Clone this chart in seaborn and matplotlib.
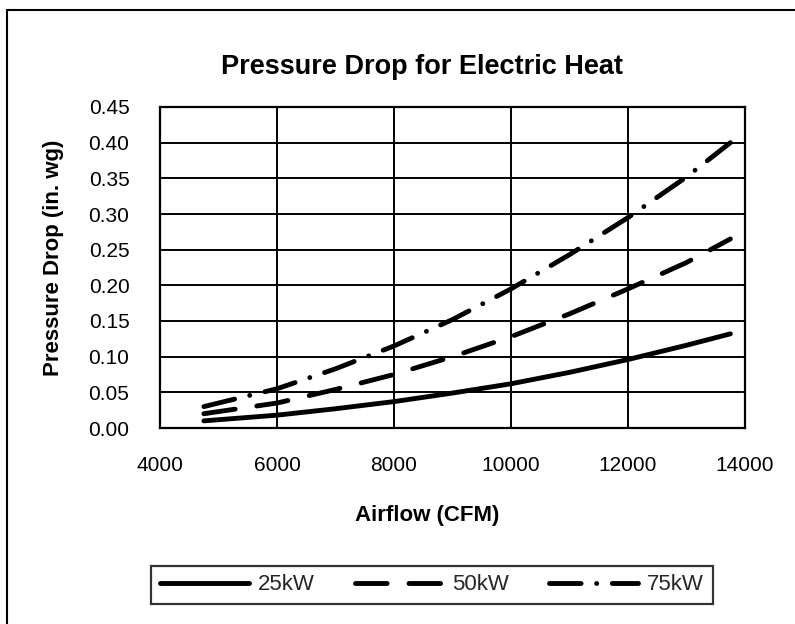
import matplotlib
matplotlib.use("Agg")
import matplotlib.pyplot as plt
from matplotlib.lines import Line2D
import numpy as np
import pandas as pd
import seaborn as sns

# Airflow points (CFM) and pressure drop (in. wg) for each heater size
airflow = [4750, 6000, 7000, 8000, 9000, 10000, 11000, 12000, 13000, 13750]
drop_25kw = [0.010, 0.018, 0.027, 0.037, 0.049, 0.062, 0.078, 0.096, 0.116, 0.132]
drop_50kw = [0.020, 0.035, 0.054, 0.075, 0.100, 0.128, 0.160, 0.195, 0.232, 0.265]
drop_75kw = [0.030, 0.055, 0.083, 0.115, 0.152, 0.195, 0.243, 0.295, 0.352, 0.400]
series_names = ["25kW", "50kW", "75kW"]

x_ticks = [4000, 6000, 8000, 10000, 12000, 14000]
y_ticks = [0.00, 0.05, 0.10, 0.15, 0.20, 0.25, 0.30, 0.35, 0.40, 0.45]

df = pd.DataFrame({
    "Airflow": airflow * 3,
    "Drop": drop_25kw + drop_50kw + drop_75kw,
    "Heater": [series_names[0]] * len(airflow)
              + [series_names[1]] * len(airflow)
              + [series_names[2]] * len(airflow),
})

sns.set_theme(style="white")
plt.rcParams["font.family"] = ["Liberation Sans", "DejaVu Sans"]

W, H = 795, 624
fig = plt.figure(figsize=(W / 100, H / 100), dpi=100)
ax = fig.add_axes([160 / W, 1 - 428 / H, 585 / W, 321 / H])

lw = 3.5
dash_50 = (6.5, 4.5)
dash_75 = (6.5, 3.2, 0.01, 3.2)
dashes = {"25kW": "", "50kW": dash_50, "75kW": dash_75}
sns.lineplot(data=df, x="Airflow", y="Drop", hue="Heater", style="Heater",
             palette=["black"] * 3, dashes=dashes, linewidth=lw,
             ax=ax, legend=False, zorder=3)
for line in ax.get_lines():
    line.set_dash_capstyle("round")
    line.set_solid_capstyle("round")

ax.set_xlim(4000, 14000)
ax.set_ylim(0, 0.45)
ax.set_xticks(x_ticks)
ax.set_yticks(y_ticks)
ax.set_xticklabels([f"{v}" for v in x_ticks])
ax.set_yticklabels([f"{v:.2f}" for v in y_ticks])
ax.tick_params(axis="both", length=0, labelsize=15, colors="black")
ax.tick_params(axis="x", pad=20)
ax.tick_params(axis="y", pad=22)
ax.grid(True, color="black", linewidth=1.4)
ax.set_axisbelow(True)
for s in ax.spines.values():
    s.set_color("black")
    s.set_linewidth(1.6)
ax.set_xlabel("")
ax.set_ylabel("")

fig.text(422 / W, 1 - 67 / H, "Pressure Drop for Electric Heat", fontsize=19.5,
         fontweight="bold", ha="center", va="center", color="black")
fig.text(427 / W, 1 - 516 / H, "Airflow (CFM)", fontsize=16, fontweight="bold",
         ha="center", va="center", color="black")
fig.text(54 / W, 1 - 258 / H, "Pressure Drop (in. wg)", fontsize=16, fontweight="bold",
         ha="center", va="center", rotation=90, color="black")

handles = [
    Line2D([], [], color="black", linewidth=lw, linestyle="-", solid_capstyle="round"),
    Line2D([], [], color="black", linewidth=lw, linestyle=(0, dash_50), dash_capstyle="round"),
    Line2D([], [], color="black", linewidth=lw, linestyle=(0, dash_75), dash_capstyle="round"),
]
leg = fig.legend(handles, series_names, loc="center", bbox_to_anchor=(432 / W, 1 - 585 / H),
                 ncol=3, fontsize=16, frameon=True, fancybox=False, handlelength=4.0,
                 columnspacing=1.8, handletextpad=0.4, borderpad=0.4)
leg.get_frame().set_edgecolor("black")
leg.get_frame().set_linewidth(1.6)

# outer frame
fig.add_artist(Line2D([7 / W, 7 / W], [0, 1 - 10 / H], transform=fig.transFigure,
                      color="black", linewidth=1.5))
fig.add_artist(Line2D([7 / W, 1], [1 - 10 / H, 1 - 10 / H], transform=fig.transFigure,
                      color="black", linewidth=1.5))

fig.savefig("out.png", dpi=100, facecolor="white")
